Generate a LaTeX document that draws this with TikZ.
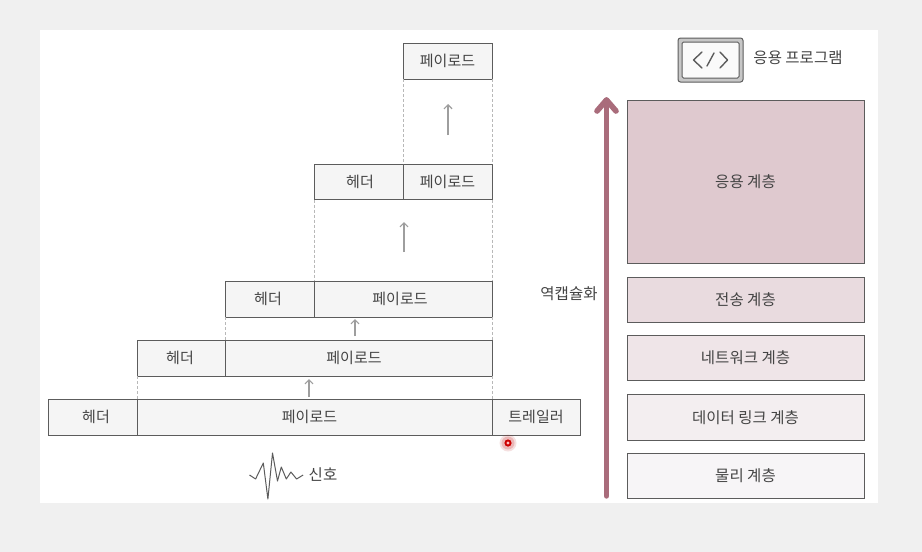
\documentclass[tikz,border=0pt]{standalone}
\usepackage{fontspec}
\setmainfont{Noto Sans CJK KR}
\usetikzlibrary{arrows.meta}
\definecolor{pagebg}{HTML}{F0F0F0}
\definecolor{ink}{HTML}{444444}
\definecolor{edge}{HTML}{5C5C5C}
\definecolor{rose}{HTML}{A96C7B}
\definecolor{layerA}{HTML}{DFC9CF}
\definecolor{layerB}{HTML}{E9DBDF}
\definecolor{layerC}{HTML}{EFE5E8}
\definecolor{layerD}{HTML}{F3EEF0}
\definecolor{layerE}{HTML}{F7F5F7}
\tikzset{
  x=1pt,y=-1pt,
  cell/.style={draw=edge,line width=1pt,fill=#1,inner sep=0pt,outer sep=0pt,anchor=north west,text=ink,font=\fontsize{15}{18}\selectfont},
  cell/.default={black!4},
  guide/.style={draw=black!28,line width=0.8pt,dash pattern=on 3pt off 2pt},
  upflow/.style={draw=black!38,line width=1.2pt,-{Straight Barb[length=4pt,width=8pt]}},
  caption/.style={text=ink,inner sep=0pt,font=\fontsize{15.5}{18}\selectfont}
}
\newcommand{\nudge}[1]{\kern#1pt\relax}
\begin{document}
\begin{tikzpicture}
\useasboundingbox (0,0) rectangle (922,552);
\fill[pagebg] (0,0) rectangle (922,552);
\fill[white] (40,30) rectangle (878,503);

% row 1
\node[cell,minimum width=89pt,minimum height=35.5pt] (hA) at (48,399.5) {\nudge{7}헤더};
\node[cell,minimum width=355pt,minimum height=35.5pt] (pA) at (137,399.5) {\nudge{-10}페이로드};
\node[cell,minimum width=88pt,minimum height=35.5pt] (tA) at (492,399.5) {트레일러};
% row 2
\node[cell,minimum width=88pt,minimum height=36pt] (hB) at (137,340) {\nudge{-2}헤더};
\node[cell,minimum width=267pt,minimum height=36pt] (pB) at (225,340) {\nudge{-9}페이로드};
% row 3
\node[cell,minimum width=89pt,minimum height=36pt] (hC) at (225,281) {\nudge{-3}헤더};
\node[cell,minimum width=178pt,minimum height=36pt] (pC) at (314,281) {\nudge{-6}페이로드};
% row 4
\node[cell,minimum width=89pt,minimum height=35.5pt] (hD) at (314,164) {\nudge{3}헤더};
\node[cell,minimum width=89pt,minimum height=35.5pt] (pD) at (403,164) {페이로드};
% row 5
\node[cell,minimum width=89pt,minimum height=36pt] (pE) at (403,43) {페이로드};

% dashed guides
\draw[guide] (hB.south west) -- (hA.north east);
\draw[guide] (pB.south east) -- (pA.north east);
\draw[guide] (hC.south west) -- (hB.north east);
\draw[guide] (pC.south east) -- (pB.north east);
\draw[guide] (hD.south west) -- (hC.north east);
\draw[guide] (pD.south east) -- (pC.north east);
\draw[guide] (pE.south west) -- (pD.north west);
\draw[guide] (pE.south east) -- (pD.north east);

% grey arrows
\coordinate (aA) at (309,397); \coordinate (bA) at (309,379);
\coordinate (aB) at (355,336); \coordinate (bB) at (355,319);
\coordinate (aC) at (404,252); \coordinate (bC) at (404,222);
\coordinate (aD) at (448,135); \coordinate (bD) at (448,104);
\draw[upflow] (aA) -- (bA);
\draw[upflow] (aB) -- (bB);
\draw[upflow] (aC) -- (bC);
\draw[upflow] (aD) -- (bD);

% signal
\draw[edge,line width=1pt,line join=round] (249.5,475) -- (255.6,479) -- (263.3,463) -- (267.9,499) -- (272.5,453) -- (277.5,481) -- (281.3,467) -- (286.3,479) -- (290.9,472) -- (296.6,479) -- (303.1,475);
\node[caption] (sig) at (323,475) {신호};

% pointer dot
\fill[red!70!black,opacity=0.12] (508,443) circle (8.5);
\fill[red!75!black,opacity=0.18] (508,443) circle (6.5);
\fill[red!80!black] (508,443) circle (3.6);
\fill[red!25] (508,443) circle (1.6);

% big arrow
\coordinate (bigFrom) at (606.5,496);
\coordinate (bigTo) at (606.5,100);
\coordinate (bigL) at (597,111);
\coordinate (bigR) at (616,111);
\draw[rose,line width=5.4pt,line cap=round] (bigFrom) -- (bigTo);
\draw[rose,line width=5.6pt,line cap=round,line join=round] (bigL) -- (bigTo) -- (bigR);
\node[caption] (decap) at (569,294) {역캡슐화};

% layers
\node[cell=layerA,font=\fontsize{15.5}{18}\selectfont,minimum width=237pt,minimum height=163pt] (lA) at (627,100) {응용 계층};
\node[cell=layerB,font=\fontsize{15.5}{18}\selectfont,minimum width=237pt,minimum height=45pt] (lB) at (627,277) {전송 계층};
\node[cell=layerC,font=\fontsize{15.5}{18}\selectfont,minimum width=237pt,minimum height=45pt] (lC) at (627,335) {네트워크 계층};
\node[cell=layerD,font=\fontsize{15.5}{18}\selectfont,minimum width=237pt,minimum height=45.5pt] (lD) at (627,394.5) {데이터 링크 계층};
\node[cell=layerE,font=\fontsize{15.5}{18}\selectfont,minimum width=237pt,minimum height=45pt] (lE) at (627,453) {물리 계층};

% application icon
\draw[edge,fill=black!22,line width=1pt,rounded corners=2.5pt] (678,38) rectangle (743,82);
\draw[edge,fill=black!2,line width=1pt,rounded corners=1.5pt] (682,42) rectangle (739,78);
\draw[edge,line width=1.4pt,line cap=round,line join=round] (702,52) -- (693.5,60) -- (702,68);
\draw[edge,line width=1.4pt,line cap=round] (714,53) -- (707,66);
\draw[edge,line width=1.4pt,line cap=round,line join=round] (720,52) -- (727.5,60) -- (720,68);
\node[caption] (app) at (798,58) {응용 프로그램};
\end{tikzpicture}
\end{document}
